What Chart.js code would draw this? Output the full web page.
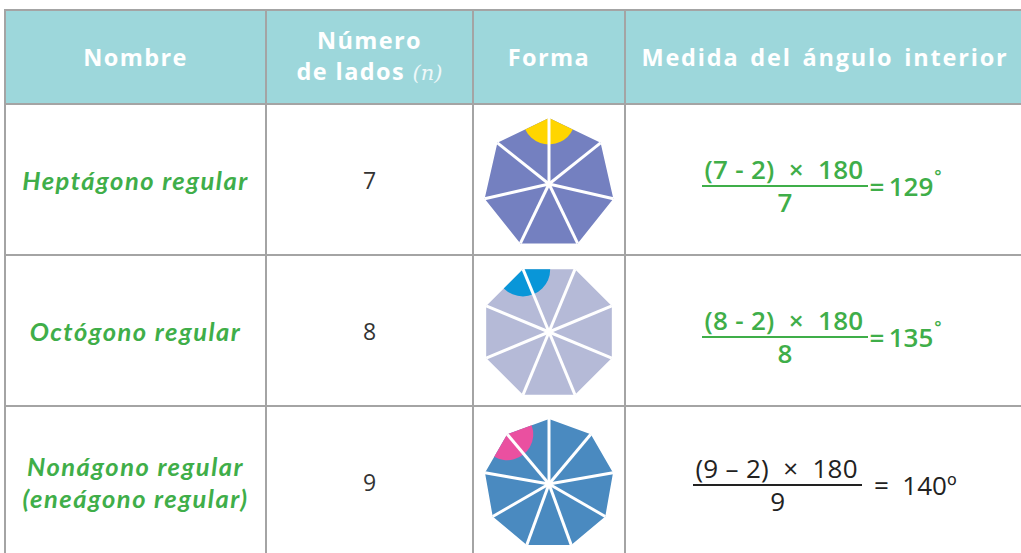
<!DOCTYPE html>
<html>
<head>
<meta charset="utf-8">
<script src="https://cdn.jsdelivr.net/npm/chart.js@4.4.1/dist/chart.umd.min.js"></script>
<style>
html, body { margin: 0; padding: 0; background: #fff; width: 1021px; height: 553px; overflow: hidden; }
table { position: absolute; left: 4px; top: 9px; border-collapse: collapse; table-layout: fixed; width: 1020px; }
th, td { border: 2px solid #a4a4a4; padding: 0; text-align: center; vertical-align: middle; }
th { background: #9dd7db; color: #fff; font-family: "Open Sans"; font-weight: 700; font-size: 23.5px;
     letter-spacing: 1.4px; height: 92px; line-height: 31px; }
th.ancho { word-spacing: 3px; letter-spacing: 1.8px; }
th i { font-family: "DejaVu Serif"; font-weight: 400; font-size: 21px; letter-spacing: 0; color: #eef8f9; }
td { height: 149px; }
.name { font-family: "Lato"; font-style: italic; font-weight: 700; color: #3fae49; font-size: 25.5px; line-height: 32px; letter-spacing: 1.5px; }
.lados { font-family: "Open Sans"; font-size: 23px; color: #333; }
.shape canvas { display: block; margin: 0 auto; position: relative; }
.formula { display: inline-flex; align-items: center; font-size: 26px; position: relative; }
.frac { display: inline-flex; flex-direction: column; align-items: center; }
.frac .num { padding: 0 4px 1px 2px; border-bottom: 2px solid currentColor; line-height: 29px; white-space: pre; letter-spacing: 0.3px; }
.frac .den { line-height: 28px; padding-top: 1px; }
.res { white-space: pre; }
.res sup { font-size: 17px; position: relative; top: -4px; margin-left: 1px; }
.green { color: #3fae49; font-family: "Open Sans"; font-weight: 600; top: 6px; left: -3px; }
.green .res { margin-left: 2px; }
.plain { color: #222; font-family: "Open Sans"; font-weight: 400; top: 3px; }
.plain .res { margin-left: 12px; }
</style>
</head>
<body>
<table id="tabla">
  <colgroup>
    <col style="width:261px"><col style="width:207px"><col style="width:152px"><col style="width:400px">
  </colgroup>
  <thead>
    <tr>
      <th>Nombre</th>
      <th>Número<br>de lados <i>(n)</i></th>
      <th>Forma</th>
      <th class="ancho">Medida del ángulo interior</th>
    </tr>
  </thead>
  <tbody id="cuerpo"></tbody>
</table>

<script>
// Datos de la tabla
const nombres = ['Heptágono regular', 'Octógono regular', 'Nonágono regular\n(eneágono regular)'];
const lados = [7, 8, 9];
const angulos = [129, 135, 140];
const simbolos = ['°', '°', 'º'];
const resta = ['-', '-', '–'];

// Colores de las figuras
const colorFigura = ['#7480c0', '#b5bad7', '#4a8ac0'];
const colorAngulo = ['#ffd500', '#0996d8', '#ea50a0'];
const verticeMarcado = [0, 0, 8];
const giro = [0, -22.5, 0];
const tamano = [132, 136, 130];
const bajada = [4, 1, 2];

// Arco del ángulo interior + radios blancos
const figuraPlugin = {
    id: 'figura',
    afterDatasetsDraw(chart, args, opts) {
        const r = chart.scales.r;
        const ctx = chart.ctx;
        const n = chart.data.labels.length;
        const R = r.drawingArea;
        const pt = i => r.getPointPosition((i + n) % n, R);

        const k = opts.vertice;
        const v = pt(k), a = pt(k - 1), b = pt(k + 1);
        const a1 = Math.atan2(a.y - v.y, a.x - v.x);
        const a2 = Math.atan2(b.y - v.y, b.x - v.x);
        let d = a2 - a1;
        while (d > Math.PI) d -= 2 * Math.PI;
        while (d < -Math.PI) d += 2 * Math.PI;

        ctx.save();
        ctx.beginPath();
        ctx.moveTo(v.x, v.y);
        ctx.arc(v.x, v.y, R * 0.4, a1, a1 + d, d < 0);
        ctx.closePath();
        ctx.fillStyle = opts.color;
        ctx.fill();

        ctx.strokeStyle = '#fff';
        ctx.lineWidth = 3;
        for (let i = 0; i < n; i++) {
            const p = pt(i);
            ctx.beginPath();
            ctx.moveTo(r.xCenter, r.yCenter);
            ctx.lineTo(p.x, p.y);
            ctx.stroke();
        }
        ctx.restore();
    }
};

const cuerpo = document.getElementById('cuerpo');

lados.forEach((n, idx) => {
    const tr = document.createElement('tr');
    const verde = idx < 2;

    const tdNombre = document.createElement('td');
    tdNombre.className = 'name';
    tdNombre.innerHTML = nombres[idx].replace('\n', '<br>');

    const tdLados = document.createElement('td');
    tdLados.className = 'lados';
    tdLados.textContent = n;

    const tdForma = document.createElement('td');
    tdForma.className = 'shape';
    const canvas = document.createElement('canvas');
    canvas.width = tamano[idx];
    canvas.height = tamano[idx];
    canvas.style.top = bajada[idx] + 'px';
    tdForma.appendChild(canvas);

    const tdMedida = document.createElement('td');
    const grado = verde ? '<sup>' + simbolos[idx] + '</sup>' : simbolos[idx];
    tdMedida.innerHTML =
        '<span class="formula ' + (verde ? 'green' : 'plain') + '">' +
        '<span class="frac"><span class="num">(' + n + ' ' + resta[idx] + ' 2)  ×  180</span>' +
        '<span class="den">' + n + '</span></span>' +
        '<span class="res">' + (verde ? '=\u2009' : '=  ') + angulos[idx] + grado + '</span></span>';

    tr.appendChild(tdNombre);
    tr.appendChild(tdLados);
    tr.appendChild(tdForma);
    tr.appendChild(tdMedida);
    cuerpo.appendChild(tr);

    new Chart(canvas, {
        type: 'radar',
        data: {
            labels: Array.from({ length: n }, (_, i) => String(i + 1)),
            datasets: [{
                data: Array(n).fill(1),
                backgroundColor: colorFigura[idx],
                borderColor: colorFigura[idx],
                borderWidth: 0,
                pointRadius: 0,
                fill: 'start'
            }]
        },
        options: {
            responsive: false,
            animation: false,
            events: [],
            layout: { padding: 0 },
            plugins: {
                legend: { display: false },
                tooltip: { enabled: false },
                figura: { vertice: verticeMarcado[idx], color: colorAngulo[idx] }
            },
            scales: {
                r: {
                    min: 0,
                    max: 1,
                    startAngle: giro[idx],
                    ticks: { display: false },
                    grid: { display: false },
                    angleLines: { display: false },
                    pointLabels: { display: false }
                }
            }
        },
        plugins: [figuraPlugin]
    });
});
</script>
</body>
</html>
